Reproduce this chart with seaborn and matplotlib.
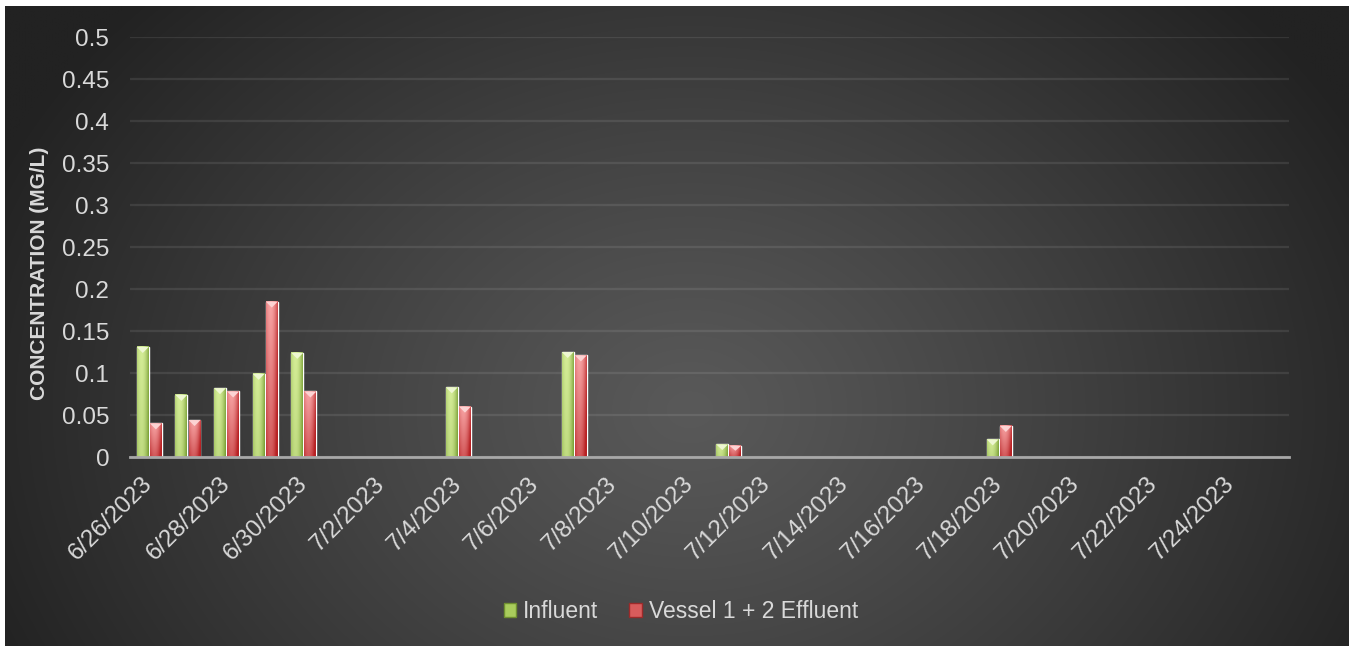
import numpy as np
import pandas as pd
import matplotlib
matplotlib.use("Agg")
import matplotlib.pyplot as plt
from matplotlib.patches import Patch, Polygon
import seaborn as sns

# Sampling dates and measured concentrations (mg/L)
sample_dates = ["6/26/2023", "6/27/2023", "6/28/2023", "6/29/2023", "6/30/2023",
                "7/4/2023", "7/7/2023", "7/11/2023", "7/18/2023"]
influent = [0.131, 0.074, 0.082, 0.099, 0.124, 0.083, 0.125, 0.015, 0.021]
effluent = [0.040, 0.044, 0.078, 0.185, 0.078, 0.060, 0.121, 0.0135, 0.037]
series_names = ["Influent", "Vessel 1 + 2 Effluent"]

# Category axis: every day of the monitoring window
axis_start, axis_end = "2023-06-26", "2023-07-25"
axis_days = pd.date_range(axis_start, axis_end, freq="D")
day_labels = [f"{d.month}/{d.day}/{d.year}" for d in axis_days]

y_ticks = [0, 0.05, 0.1, 0.15, 0.2, 0.25, 0.3, 0.35, 0.4, 0.45, 0.5]
y_tick_labels = ["0", "0.05", "0.1", "0.15", "0.2", "0.25", "0.3", "0.35", "0.4", "0.45", "0.5"]
y_title = "CONCENTRATION (MG/L)"

df = pd.DataFrame({
    "date": sample_dates * 2,
    "series": [series_names[0]] * len(sample_dates) + [series_names[1]] * len(sample_dates),
    "value": influent + effluent,
})

sns.set_theme(style="dark")
plt.rcParams["font.family"] = ["Liberation Sans", "DejaVu Sans"]

W, H = 1351, 647
fig = plt.figure(figsize=(W / 100, H / 100), dpi=100, facecolor="white")

# Dark radial-gradient backdrop
bg = fig.add_axes([5 / W, 1 / H, 1344 / W, 640 / H])
xs = np.linspace(5, 1349, 700)[None, :]
ys = np.linspace(6, 646, 340)[:, None]
r = np.sqrt(((xs - 690) / 760.0) ** 2 + ((ys - 410) / 600.0) ** 2)
shade = (0x59 - (0x59 - 0x22) * np.clip(r, 0, 1) ** 1.15) / 255.0
bg.imshow(np.dstack([shade] * 3), extent=[0, 1, 0, 1], aspect="auto",
          interpolation="bilinear", origin="upper")
bg.axis("off")

ax = fig.add_axes([130 / W, 1 - 457 / H, 1159 / W, 420 / H])
ax.set_zorder(1)
ax.set_facecolor("none")

base_colors = {"Influent": "#b3d26a", "Vessel 1 + 2 Effluent": "#e27c7c"}
sns.barplot(data=df, x="date", y="value", hue="series", order=day_labels,
            hue_order=series_names, palette=base_colors, width=0.68, gap=0.09,
            saturation=1, errorbar=None, legend=False, ax=ax)
ax.set_xlim(-0.5, len(day_labels) - 0.5)
ax.set_ylim(0, 0.5)

styles = {
    "Influent": dict(light=np.array([0.86, 0.95, 0.62]), dark=np.array([0.42, 0.58, 0.15]),
                     top="#eef7d2", vert=0.18),
    "Vessel 1 + 2 Effluent": dict(light=np.array([0.99, 0.68, 0.68]), dark=np.array([0.72, 0.13, 0.14]),
                                  top="#fcd3d3", vert=0.55),
}
rgb_to_series = {tuple(np.round(matplotlib.colors.to_rgb(c), 3)): s for s, c in base_colors.items()}


def shade_bar(rect, light, dark, top, vert):
    x0, y0 = rect.get_x(), rect.get_y()
    w, h = rect.get_width(), rect.get_height()
    u = np.linspace(0, 1, 40)[None, :]
    v = np.linspace(0, 1, 80)[:, None]
    t = np.clip(0.06 + 1.8 * (u - 0.38) ** 2 + vert * v, 0, 1)
    img = light[None, None, :] * (1 - t[..., None]) + dark[None, None, :] * t[..., None]
    ax.imshow(img, extent=[x0, x0 + w, y0, y0 + h], origin="upper", aspect="auto",
              interpolation="bilinear", zorder=2)
    bevel = min(0.0072, h * 0.45)
    ax.add_patch(Polygon([[x0, y0 + h], [x0 + w, y0 + h], [x0 + w / 2, y0 + h - bevel]],
                         closed=True, facecolor=top, edgecolor="none", zorder=2.1))


for rect in list(ax.patches):
    if not hasattr(rect, "get_height") or rect.get_height() <= 0:
        continue
    key = tuple(np.round(rect.get_facecolor()[:3], 3))
    s = rgb_to_series.get(key)
    if s is None:
        continue
    shade_bar(rect, **styles[s])

ax.set_xlim(-0.5, len(day_labels) - 0.5)
ax.set_ylim(0, 0.5)

text_color = "#d9d9d9"
ax.set_xticks(range(0, len(day_labels), 2))
ax.set_xticklabels(day_labels[::2], rotation=45, ha="right", va="center",
                   rotation_mode="anchor", fontsize=17.5, color=text_color)
ax.set_yticks(y_ticks)
ax.set_yticklabels(y_tick_labels, fontsize=17.5, color=text_color)
ax.tick_params(axis="x", length=0, pad=17)
ax.tick_params(axis="y", length=0, pad=15)
ax.set_xlabel("")
ax.set_ylabel("")
ax.grid(axis="y", color="white", alpha=0.09, linewidth=1.6)
ax.grid(axis="x", visible=False)
ax.set_axisbelow(True)
for side in ["top", "left", "right"]:
    ax.spines[side].set_visible(False)
ax.spines["bottom"].set_color("#a8a8a8")
ax.spines["bottom"].set_linewidth(2)
ax.spines["bottom"].set_zorder(3)

fig.text(40 / W, 1 - 273 / H, y_title, rotation=90, ha="center", va="center",
         fontsize=15, fontweight="bold", color=text_color)

handles = [Patch(facecolor="#a9cc5c", edgecolor="#6f8f30", linewidth=1),
           Patch(facecolor="#d85c5c", edgecolor="#9c2a2a", linewidth=1)]
fig.legend(handles, series_names, loc="center", bbox_to_anchor=(681 / W, 1 - 612 / H),
           ncol=2, frameon=False, fontsize=16.5, labelcolor=text_color,
           handlelength=0.55, handleheight=0.55, handletextpad=0.3, columnspacing=1.35)

fig.savefig("out.png", dpi=100, facecolor="white")
